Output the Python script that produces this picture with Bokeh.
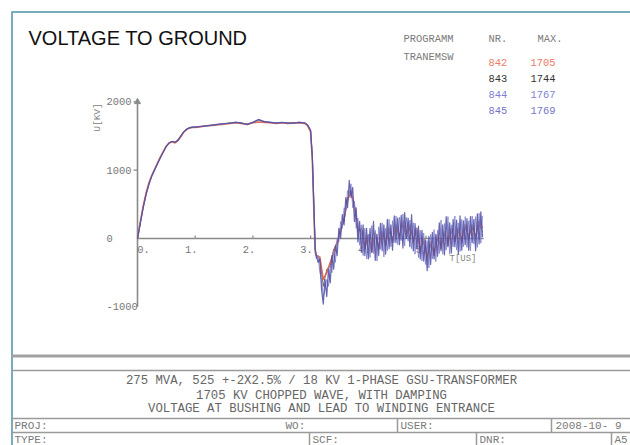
import numpy as np
from bokeh.plotting import figure
from bokeh.models import Range1d
from bokeh.core.properties import value
from bokeh.embed import file_html
from bokeh.resources import INLINE

# ---------------- data ----------------
TITLE = "VOLTAGE TO GROUND"
PROGRAM_LINES = ["PROGRAMM", "TRANEMSW"]
SERIES_NR = ["842", "843", "844", "845"]
SERIES_MAX = ["1705", "1744", "1767", "1769"]
SERIES_COLORS = ["#d8604e", "#3c3c3c", "#8484d2", "#4c4ca0"]
LEGEND_COLORS = ["#ee7a66", "#333333", "#7f7fd2", "#7575c8"]

X_TICKS = [0, 1, 2, 3, 4, 5]
X_TICK_LABELS = ["0.", "1.", "2.", "3.", "4.", "5."]
Y_TICKS = [-1000, 0, 1000, 2000]
Y_TICK_LABELS = ["-1000", "0", "1000", "2000"]
X_MAX = 6.0
Y_LABEL = "U[KV]"
X_LABEL = "T[US]"

# time [us] of the rising part / plateau / chop (shared by all four records)
T_FRONT = [0.00, 0.05, 0.10, 0.15, 0.20, 0.25, 0.30, 0.35, 0.40, 0.45,
           0.50, 0.55, 0.60, 0.65, 0.70, 0.75, 0.80, 0.85, 0.90, 0.95,
           1.00, 1.10, 1.20, 1.30, 1.40, 1.50, 1.60, 1.70, 1.80, 1.90,
           2.00, 2.10, 2.20, 2.30, 2.40, 2.50, 2.60, 2.70, 2.80, 2.90,
           2.95, 3.00, 3.03, 3.06, 3.08]

V842_FRONT = [0, 250, 480, 670, 820, 930, 1020, 1110, 1200, 1280,
              1355, 1400, 1415, 1400, 1430, 1490, 1555, 1595, 1620, 1625,
              1625, 1635, 1650, 1655, 1665, 1675, 1685, 1695, 1685, 1670,
              1695, 1705, 1700, 1695, 1685, 1695, 1685, 1690, 1695, 1685,
              1650, 1560, 1150, 300, -200]
V843_FRONT = [0, 240, 470, 660, 810, 925, 1015, 1105, 1195, 1275,
              1350, 1405, 1420, 1405, 1435, 1495, 1560, 1600, 1625, 1630,
              1630, 1640, 1655, 1660, 1670, 1680, 1690, 1700, 1690, 1675,
              1700, 1735, 1705, 1700, 1690, 1700, 1690, 1695, 1700, 1690,
              1660, 1580, 1190, 380, -160]
V844_FRONT = [0, 220, 450, 640, 790, 915, 1005, 1095, 1185, 1265,
              1345, 1395, 1425, 1415, 1445, 1505, 1555, 1595, 1615, 1625,
              1635, 1645, 1645, 1665, 1675, 1685, 1685, 1705, 1695, 1665,
              1705, 1745, 1715, 1705, 1695, 1695, 1695, 1685, 1705, 1695,
              1665, 1590, 1220, 420, -170]
V845_FRONT = [0, 230, 460, 650, 800, 920, 1010, 1100, 1190, 1270,
              1350, 1400, 1420, 1410, 1440, 1500, 1560, 1600, 1620, 1630,
              1630, 1640, 1650, 1660, 1670, 1680, 1690, 1700, 1690, 1670,
              1700, 1740, 1710, 1700, 1690, 1700, 1690, 1690, 1700, 1690,
              1660, 1580, 1200, 400, -150]

# after the chop: records 842/843 sampled every 0.06 us, 844/845 every 0.03 us
TAIL_START = 3.10
TAIL_STEP_COARSE = 0.06
TAIL_STEP_FINE = 0.03

V842_TAIL = [-250, -270, -600, -500, -350, -200, -50, 100, 300, 550,
             700, 450, 150, 100, -150, 50, -200, 80, -150, 100,
             -100, 150, -50, 200, 0, 250, 50, 200, -50, 150,
             -200, 0, -300, -50, -250, 50, -150, 100, -100, 150,
             -50, 150, -50, 200, 0, 200, 0, 250, 150]
V843_TAIL = [-270, -300, -700, -450, -400, -150, -100, 150, 250, 600,
             650, 500, 100, 150, -100, 0, -150, 50, -100, 50,
             -50, 100, 0, 150, 50, 200, 0, 150, 0, 100,
             -150, -50, -250, -100, -200, 0, -100, 50, -50, 100,
             0, 100, 0, 150, 50, 150, 50, 200, 100]
V844_TAIL = [-300, -250, -500, -600, -850, -750, -600, -700, -400, -500,
             -200, -350, 0, -50, 250, 150, 450, 400, 700, 650,
             800, 450, 550, 150, 300, -100, 200, -250, 150, -300,
             60, -280, 190, -220, 120, -330, 170, -160, 230, -270,
             150, -180, 280, -120, 260, -60, 330, -90, 310, -30,
             360, -110, 310, -40, 270, -150, 230, -230, 150, -280,
             120, -330, 80, -380, -30, -430, 60, -300, 130, -340,
             120, -220, 270, -230, 220, -170, 320, -230, 200, -120,
             330, -170, 230, -190, 280, -120, 320, -130, 260, -180,
             330, -80, 320, -130, 370, -70, 330]
V845_TAIL = [-250, -350, -300, -750, -960, -600, -850, -450, -650, -250,
             -450, -100, -250, 150, 0, 350, 200, 600, 450, 850,
             600, 750, 250, 450, -50, 250, -200, 200, -250, 150,
             -300, 150, -200, 250, -320, 60, -250, 220, -180, 200,
             -230, 280, -150, 200, -170, 330, -60, 300, -90, 340,
             -140, 380, 0, 300, -120, 350, -180, 220, -150, 180,
             -300, 120, -330, -20, -470, 30, -380, 90, -300, 60,
             -260, 230, -180, 200, -240, 320, -120, 230, -210, 280,
             -120, 270, -230, 330, -170, 260, -90, 290, -170, 320,
             -60, 280, -180, 360, -80, 390, 20]

BLOCK_LINES = ["275 MVA, 525 +-2X2.5% / 18 KV 1-PHASE GSU-TRANSFORMER",
               "1705 KV CHOPPED WAVE, WITH DAMPING",
               "VOLTAGE AT BUSHING AND LEAD TO WINDING ENTRANCE"]
ROW1_FIELDS = ["PROJ:", "WO:", "USER:", "2008-10- 9"]
ROW2_FIELDS = ["TYPE:", "SCF:", "DNR:", "A5"]

# ---------------- layout (pixels of the 630x445 page) ----------------
W, H = 630, 445
OX, OY = 137.0, 238.0          # page pixel of (0 us, 0 kV)
PX_PER_US = 57.7
PX_PER_KV = 0.0683


def dx(px):
    return (px - OX) / PX_PER_US


def dy(py):
    return (OY - py) / PX_PER_KV


p = figure(width=W, height=H,
           x_range=Range1d(dx(0), dx(W)), y_range=Range1d(dy(H), dy(0)),
           output_backend="svg", toolbar_location=None,
           x_axis_type=None, y_axis_type=None,
           min_border=0, min_border_left=0, min_border_right=0,
           min_border_top=0, min_border_bottom=0)
p.outline_line_color = None
p.background_fill_color = "white"
p.border_fill_color = "white"
p.grid.visible = False

MONO = "Liberation Mono"


def txt(px, py, s, size, color, font=MONO, align="left", angle=0.0):
    p.text(x=[dx(px)], y=[dy(py)], text=[s], text_font=value(font),
           text_font_size=f"{size}px", text_color=color, text_align=align,
           text_baseline="middle", angle=angle)


def hline(py, px0, px1, color="#9a9a9a", width=1.5):
    p.segment(x0=[dx(px0)], y0=[dy(py)], x1=[dx(px1)], y1=[dy(py)],
              line_color=color, line_width=width)


def vline(px, py0, py1, color="#9a9a9a", width=1.5):
    p.segment(x0=[dx(px)], y0=[dy(py0)], x1=[dx(px)], y1=[dy(py1)],
              line_color=color, line_width=width)


# page frame (teal)
hline(11.5, 11, W, color="#79adbb", width=2)
vline(11.5, 11, H, color="#79adbb", width=2)

# title
txt(28, 37, TITLE, 20, "#111111", font="Liberation Sans")

# legend block
txt(403, 38, PROGRAM_LINES[0], 10.4, "#7a7a7a")
txt(403, 56, PROGRAM_LINES[1], 10.4, "#7a7a7a")
txt(488, 38, "NR.", 10.4, "#7a7a7a")
txt(537, 38, "MAX.", 10.4, "#7a7a7a")
for i, (nr, mx, c) in enumerate(zip(SERIES_NR, SERIES_MAX, LEGEND_COLORS)):
    yy = 62 + i * 16
    txt(488, yy, nr, 10.4, c)
    txt(530, yy, mx, 10.4, c)

# axes (drawn at the data origin)
AX = "#8a8a8a"
p.segment(x0=[0], y0=[Y_TICKS[0]], x1=[0], y1=[Y_TICKS[-1]], line_color=AX, line_width=1.6)
p.scatter(x=[0], y=[Y_TICKS[-1]], marker="triangle", size=6, color=AX)
p.segment(x0=[0], y0=[0], x1=[X_MAX], y1=[0], line_color=AX, line_width=1.6)
p.segment(x0=[dx(OX - 4)] * 2, y0=Y_TICKS[2:], x1=[0] * 2, y1=Y_TICKS[2:],
          line_color=AX, line_width=1.2)
p.segment(x0=X_TICKS[1:], y0=[0] * 5, x1=X_TICKS[1:], y1=[3 / PX_PER_KV] * 5,
          line_color=AX, line_width=1.2)
p.text(x=[dx(106)] * len(Y_TICKS), y=Y_TICKS, text=Y_TICK_LABELS,
       text_font=value(MONO), text_font_size="10.4px", text_color="#767676",
       text_align="left", text_baseline="middle")
p.text(x=X_TICKS, y=[dy(249)] * len(X_TICKS), text=X_TICK_LABELS,
       x_offset=[6, -4, -4, -4, -4, -4],
       text_font=value(MONO), text_font_size="10.4px", text_color="#767676",
       text_align="center", text_baseline="middle")
txt(97, 117, Y_LABEL, 9.5, "#808080", align="center", angle=np.pi / 2)
txt(449, 258, X_LABEL, 9, "#888888")

# the four records
fronts = [V842_FRONT, V843_FRONT, V844_FRONT, V845_FRONT]
tails = [V842_TAIL, V843_TAIL, V844_TAIL, V845_TAIL]
steps = [TAIL_STEP_COARSE, TAIL_STEP_COARSE, TAIL_STEP_FINE, TAIL_STEP_FINE]
widths = [1.6, 1.0, 1.0, 1.2]
alphas = [0.9, 0.7, 0.85, 0.85]
order = [1, 0, 2, 3]
for k in order:
    t_tail = [round(TAIL_START + steps[k] * i, 3) for i in range(len(tails[k]))]
    xs = list(T_FRONT) + t_tail
    ys = list(fronts[k]) + list(tails[k])
    p.line(xs, ys, line_color=SERIES_COLORS[k], line_width=widths[k],
           line_alpha=alphas[k], line_join="round")

# title block
hline(355.5, 11, W, color="#a2a2a2", width=3)
hline(370, 11, W)
for i, s in enumerate(BLOCK_LINES):
    txt(321, [380, 395, 408][i], s, 12.3, "#666666", align="center")
hline(418, 11, W)
hline(432, 11, W)
vline(397, 418, 432)
vline(551, 418, 432)
vline(309, 432, H)
vline(476, 432, H)
vline(611, 432, H)
for s, xx in zip(ROW1_FIELDS, [14, 285, 400, 555]):
    txt(xx, 425, s, 11, "#7a7a7a")
for s, xx in zip(ROW2_FIELDS, [14, 312, 479, 614]):
    txt(xx, 439, s, 11, "#7a7a7a")

open("out.html", "w").write(file_html(p, INLINE))
